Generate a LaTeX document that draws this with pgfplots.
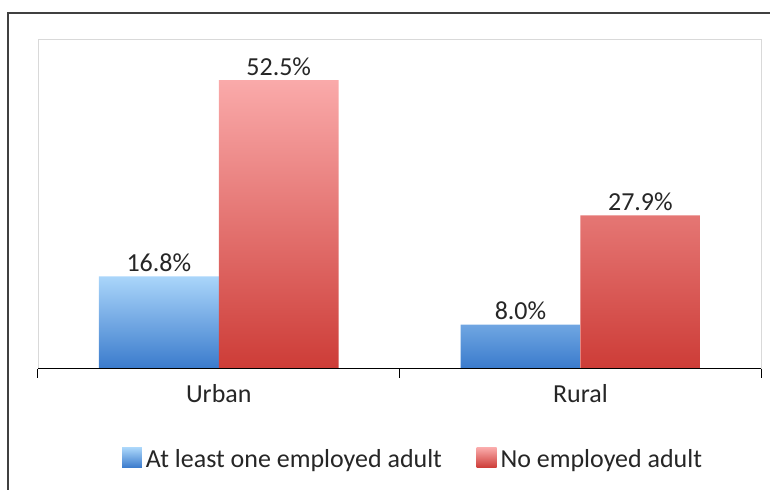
\documentclass[border=0pt]{standalone}
\usepackage{pgfplots}
\pgfplotsset{compat=1.18}
\usepackage{fontspec}
\setmainfont{Carlito}
\definecolor{framecol}{HTML}{404040}
\definecolor{boxcol}{HTML}{D9D9D9}
\definecolor{btop}{RGB}{170,214,250}
\definecolor{bbot}{RGB}{58,122,204}
\definecolor{rtop}{RGB}{250,170,170}
\definecolor{rbot}{RGB}{205,60,55}
\newcommand{\cfont}{\fontsize{19.5}{23}\selectfont}
\begin{document}
\begin{tikzpicture}[x=0.75pt,y=0.75pt]
\path (0,0) rectangle (771,490);
\draw[framecol, line width=1.1pt] (8,0) -- (8,477) -- (771,477);
\begin{axis}[
  at={(28.5pt,90.75pt)}, anchor=south west,
  width=543pt, height=247.5pt, scale only axis,
  xmin=-0.5, xmax=1.5, ymin=0, ymax=60,
  ytick=\empty,
  xtick={-0.5,0.5,1.5}, xticklabels={}, xtick pos=bottom,
  extra x ticks={0,1}, extra x tick labels={Urban,Rural},
  extra x tick style={major tick length=0pt, tick label style={yshift=-8pt}},
  major tick length=6.75pt, tick align=outside,
  xtick style={black, line width=0.8pt},
  axis line style={boxcol},
  /pgf/number format/assume math mode=true,
  tick label style={font=\cfont, text=black!85},
  ybar, bar width=0.3315,
  nodes near coords={\pgfmathprintnumber[fixed,fixed zerofill,precision=1]{\pgfplotspointmeta}\%},
  every node near coord/.append style={font=\cfont, text=black!85, yshift=0pt},
  legend style={at={(0.519,-0.276)}, anchor=center, draw=none, font=\cfont, text=black!85,
    legend columns=2,
    /tikz/every odd column/.append style={column sep=1pt},
    /tikz/every even column/.append style={column sep=24pt},
    inner xsep=0pt},
  clip=false,
]
\addplot[bar shift=-0.16575, draw=none, top color=btop, bottom color=bbot,
  legend image code/.code={\path[top color=btop, bottom color=bbot] (0pt,-6pt) rectangle (15pt,9pt);}]
  coordinates {(0,16.8) (1,8.0)};
\addlegendentry{At least one employed adult}
\addplot[bar shift=0.16575, draw=none, top color=rtop, bottom color=rbot,
  legend image code/.code={\path[top color=rtop, bottom color=rbot] (0pt,-6pt) rectangle (15pt,9pt);}]
  coordinates {(0,52.5) (1,27.9)};
\addlegendentry{No employed adult}
\draw[black, line width=0.8pt] (rel axis cs:0,0) -- (rel axis cs:1,0);
\end{axis}
\end{tikzpicture}
\end{document}
